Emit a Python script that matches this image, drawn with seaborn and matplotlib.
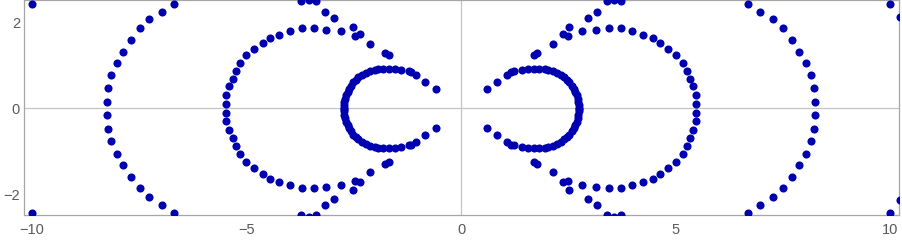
import pandas as pd
import matplotlib
matplotlib.use("Agg")
import matplotlib.pyplot as plt
import seaborn as sns

# Inner "C" shaped curves
right_inner_x = [0.59, 0.84, 1.06, 1.16, 1.22, 1.41, 1.55, 1.69, 1.82, 1.94, 2.02, 2.13, 2.23,
                 2.32, 2.40, 2.46, 2.52, 2.58, 2.62, 2.65, 2.69, 2.71, 2.73, 2.74, 2.74,
                 0.59, 0.84, 1.06, 1.16, 1.22, 1.41, 1.55, 1.69, 1.82, 1.94, 2.02, 2.13, 2.23,
                 2.32, 2.40, 2.46, 2.52, 2.58, 2.62, 2.65, 2.69, 2.71, 2.73, 2.74, 2.74]
right_inner_y = [0.45, 0.62, 0.78, 0.84, 0.86, 0.89, 0.91, 0.92, 0.92, 0.92, 0.90, 0.88, 0.82,
                 0.78, 0.72, 0.67, 0.61, 0.53, 0.46, 0.38, 0.31, 0.23, 0.15, 0.07, 0.02,
                 -0.45, -0.62, -0.78, -0.84, -0.86, -0.89, -0.91, -0.92, -0.92, -0.92, -0.90, -0.88, -0.82,
                 -0.78, -0.72, -0.67, -0.61, -0.53, -0.46, -0.38, -0.31, -0.23, -0.15, -0.07, -0.02]
left_inner_x = [-0.59, -0.84, -1.06, -1.16, -1.22, -1.41, -1.55, -1.69, -1.82, -1.94, -2.02, -2.13, -2.23,
                -2.32, -2.40, -2.46, -2.52, -2.58, -2.62, -2.65, -2.69, -2.71, -2.73, -2.74, -2.74,
                -0.59, -0.84, -1.06, -1.16, -1.22, -1.41, -1.55, -1.69, -1.82, -1.94, -2.02, -2.13, -2.23,
                -2.32, -2.40, -2.46, -2.52, -2.58, -2.62, -2.65, -2.69, -2.71, -2.73, -2.74, -2.74]
left_inner_y = [0.45, 0.62, 0.78, 0.84, 0.86, 0.89, 0.91, 0.92, 0.92, 0.92, 0.90, 0.88, 0.82,
                0.78, 0.72, 0.67, 0.61, 0.53, 0.46, 0.38, 0.31, 0.23, 0.15, 0.07, 0.02,
                -0.45, -0.62, -0.78, -0.84, -0.86, -0.89, -0.91, -0.92, -0.92, -0.92, -0.90, -0.88, -0.82,
                -0.78, -0.72, -0.67, -0.61, -0.53, -0.46, -0.38, -0.31, -0.23, -0.15, -0.07, -0.02]

# Outer arcs, upper half then lower half
right_outer_x = [1.69, 1.77, 2.13, 2.37, 2.52, 2.96, 3.17, 3.39, 3.55, 3.73,
                 2.48, 2.81, 3.14, 3.44, 3.72, 3.98, 4.24, 4.46, 4.63, 4.82, 5.01, 5.16, 5.26,
                 5.33, 5.40, 5.48, 5.48,
                 6.69, 6.97, 7.27, 7.49, 7.70, 7.88, 8.03, 8.15, 8.22, 8.25, 10.0, 10.22,
                 1.69, 1.77, 2.13, 2.37, 2.52, 2.96, 3.17, 3.39, 3.55, 3.73,
                 2.48, 2.81, 3.14, 3.44, 3.72, 3.98, 4.24, 4.46, 4.63, 4.82, 5.01, 5.16, 5.26,
                 5.33, 5.40, 5.48, 5.48,
                 6.69, 6.97, 7.27, 7.49, 7.70, 7.88, 8.03, 8.15, 8.22, 8.25, 10.0, 10.22]
right_outer_y = [1.25, 1.29, 1.49, 1.72, 1.90, 2.11, 2.25, 2.49, 2.53, 2.49,
                 1.68, 1.79, 1.82, 1.86, 1.86, 1.79, 1.71, 1.64, 1.53, 1.39, 1.24, 1.06, 0.88,
                 0.69, 0.51, 0.30, 0.11,
                 2.44, 2.25, 2.07, 1.86, 1.60, 1.31, 1.05, 0.77, 0.48, 0.16, 2.44, 2.13,
                 -1.25, -1.29, -1.49, -1.72, -1.90, -2.11, -2.25, -2.49, -2.53, -2.49,
                 -1.68, -1.79, -1.82, -1.86, -1.86, -1.79, -1.71, -1.64, -1.53, -1.39, -1.24, -1.06, -0.88,
                 -0.69, -0.51, -0.30, -0.11,
                 -2.44, -2.25, -2.07, -1.86, -1.60, -1.31, -1.05, -0.77, -0.48, -0.16, -2.44, -2.13]
left_outer_x = [-1.69, -1.77, -2.13, -2.37, -2.52, -2.96, -3.17, -3.39, -3.55, -3.73,
                -2.48, -2.81, -3.14, -3.44, -3.72, -3.98, -4.24, -4.46, -4.63, -4.82, -5.01, -5.16, -5.26,
                -5.33, -5.40, -5.48, -5.48,
                -6.69, -6.97, -7.27, -7.49, -7.70, -7.88, -8.03, -8.15, -8.22, -8.25, -10.0,
                -1.69, -1.77, -2.13, -2.37, -2.52, -2.96, -3.17, -3.39, -3.55, -3.73,
                -2.48, -2.81, -3.14, -3.44, -3.72, -3.98, -4.24, -4.46, -4.63, -4.82, -5.01, -5.16, -5.26,
                -5.33, -5.40, -5.48, -5.48,
                -6.69, -6.97, -7.27, -7.49, -7.70, -7.88, -8.03, -8.15, -8.22, -8.25, -10.0]
left_outer_y = [1.25, 1.29, 1.49, 1.72, 1.90, 2.11, 2.25, 2.49, 2.53, 2.49,
                1.68, 1.79, 1.82, 1.86, 1.86, 1.79, 1.71, 1.64, 1.53, 1.39, 1.24, 1.06, 0.88,
                0.69, 0.51, 0.30, 0.11,
                2.44, 2.25, 2.07, 1.86, 1.60, 1.31, 1.05, 0.77, 0.48, 0.16, 2.44,
                -1.25, -1.29, -1.49, -1.72, -1.90, -2.11, -2.25, -2.49, -2.53, -2.49,
                -1.68, -1.79, -1.82, -1.86, -1.86, -1.79, -1.71, -1.64, -1.53, -1.39, -1.24, -1.06, -0.88,
                -0.69, -0.51, -0.30, -0.11,
                -2.44, -2.25, -2.07, -1.86, -1.60, -1.31, -1.05, -0.77, -0.48, -0.16, -2.44]

x_ticks = [-10, -5, 0, 5, 10]
x_minor = [-9, -8, -7, -6, -4, -3, -2, -1, 1, 2, 3, 4, 6, 7, 8, 9]
y_ticks = [-2, 0, 2]

df = pd.DataFrame({
    "x": right_inner_x + left_inner_x + right_outer_x + left_outer_x,
    "y": right_inner_y + left_inner_y + right_outer_y + left_outer_y,
})

sns.set_style("white")
plt.rcParams["font.family"] = ["Liberation Sans", "DejaVu Sans"]

fig = plt.figure(figsize=(9.02, 2.43), dpi=100)
ax = fig.add_axes([23.5 / 902, 28 / 243, 875.5 / 902, 214.5 / 243])

# Axes through the origin
ax.axhline(0, color="#c4c4c4", lw=0.9, zorder=0)
ax.axvline(0, color="#c4c4c4", lw=0.9, zorder=0)

sns.scatterplot(data=df, x="x", y="y", ax=ax, color="#0000b0", s=34,
                linewidth=0, legend=False, zorder=3)

ax.set_xlim(-10.2, 10.2)
ax.set_ylim(-2.48, 2.51)
ax.set_xticks(x_ticks)
ax.set_xticks(x_minor, minor=True)
ax.set_yticks(y_ticks)
ax.set_xlabel("")
ax.set_ylabel("")

for spine in ax.spines.values():
    spine.set_color("#a6a6a6")
    spine.set_linewidth(0.9)

ax.tick_params(axis="both", which="major", direction="in", length=4.5, width=0.8,
               color="#a6a6a6", labelcolor="#5a5a5a", labelsize=10.5)
ax.tick_params(axis="x", which="minor", direction="in", length=2.7, width=0.7,
               color="#a6a6a6")
ax.tick_params(axis="x", which="major", pad=5.5)
ax.tick_params(axis="y", which="major", pad=2.5)

plt.savefig("out.png", dpi=100)
